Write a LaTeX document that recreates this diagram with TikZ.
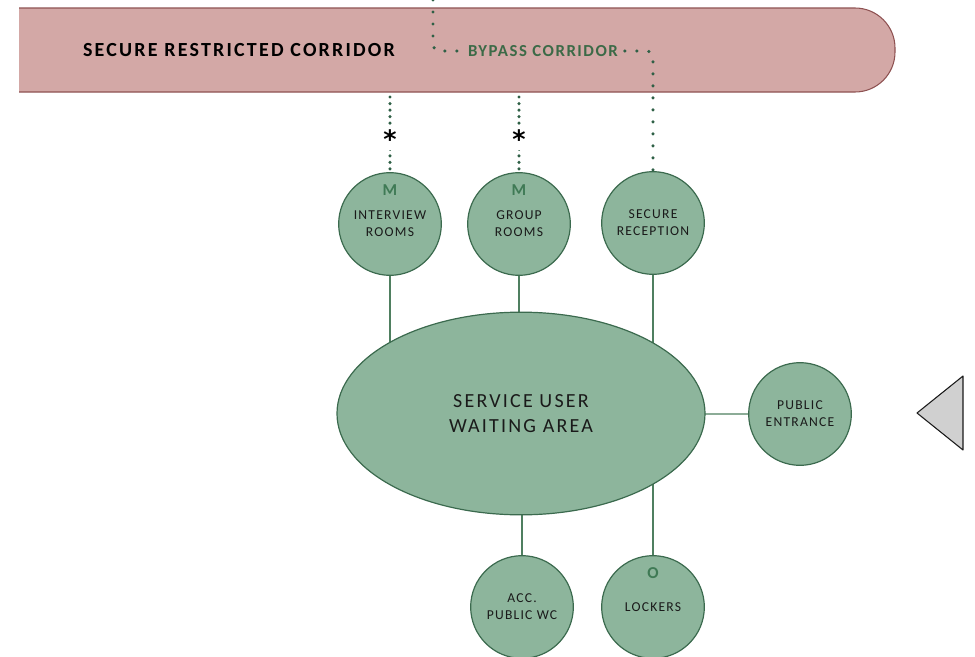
\documentclass[tikz,border=0pt]{standalone}
\usepackage{fontspec}
\setmainfont{Carlito}
\newfontfamily\spacedfont[LetterSpace=9]{Carlito}
\newfontfamily\widefont[LetterSpace=11]{Carlito}
\newfontfamily\starfont{DejaVu Sans}
\usetikzlibrary{shapes.geometric,backgrounds}

\definecolor{roomfill}{HTML}{8DB59C}
\definecolor{roomline}{HTML}{3B6A4E}
\definecolor{linkline}{HTML}{4F7F60}
\definecolor{corrfill}{HTML}{D3A8A6}
\definecolor{corrline}{HTML}{8E5252}
\definecolor{dotgreen}{HTML}{2F6046}
\definecolor{codegreen}{HTML}{3F7A55}
\definecolor{bypassgreen}{HTML}{3C6A47}
\definecolor{inkdark}{HTML}{1A1A1A}
\definecolor{arrowgray}{HTML}{D0D0D0}

\begin{document}
\begin{tikzpicture}[x=0.75pt,y=-0.75pt,
  room/.style={circle, draw=roomline, fill=roomfill, line width=0.9pt,
    minimum size=77pt, inner sep=0pt, align=center, text=inkdark,
    font=\spacedfont\fontsize{10.2}{12.8}\selectfont},
  hub/.style={ellipse, draw=roomline, fill=roomfill, line width=0.9pt,
    minimum width=276pt, minimum height=152pt, inner sep=0pt, align=center,
    text=inkdark, font=\widefont\fontsize{15}{18.8}\selectfont},
  link/.style={draw=linkline, line width=0.9pt},
  dotline/.style={draw=dotgreen, line width=2.6pt, line cap=round,
    dash pattern=on 0pt off 9pt},
  densedots/.style={draw=dotgreen, line width=2.6pt, line cap=round,
    dash pattern=on 0pt off 4.9pt},
  code/.style={text=codegreen, font=\bfseries\fontsize{12.5}{14}\selectfont, inner sep=1pt},
  star/.style={fill=white, inner sep=1.5pt, text=black,
    font=\starfont\bfseries\fontsize{19}{19}\selectfont}
]
\useasboundingbox (0,0) rectangle (975,657);

% restricted corridor band, open on the left, rounded on the right
\fill[corrfill, rounded corners=30pt] (19,8) -- (895,8) -- (895,92) -- (19,92);
\draw[corrline, line width=0.8pt, rounded corners=30pt] (19,8) -- (895,8) -- (895,92) -- (19,92);
\coordinate (corrbase) at (0,92);
\coordinate (bypasstop) at (433,0);

\node[text=black, font={\widefont\bfseries\fontsize{15}{17}\selectfont}] (corr) at (239,50) {SECURE RESTRICTED CORRIDOR};
\node[text=bypassgreen, font={\spacedfont\bfseries\fontsize{12.6}{14}\selectfont}, inner sep=5pt] (bypass) at (543,51) {BYPASS CORRIDOR};

% rooms
\node[room] (int) at (390,224) {INTERVIEW\\ROOMS};
\node[room] (grp) at (519,224) {GROUP\\ROOMS};
\node[room] (sec) at (653,223) {SECURE\\RECEPTION};
\node[hub] (wait) at (521,413.5) {SERVICE USER\\WAITING AREA};
\node[room] (ent) at (800,414) {PUBLIC\\ENTRANCE};
\node[room] (wc) at (522,607) {ACC.\\PUBLIC WC};
\node[room] (lock) at (653,607) {LOCKERS};

\node[code] (mint) at (390,190) {M};
\node[code] (mgrp) at (519,190) {M};
\node[code] (olock) at (653,573) {O};

% connections to the waiting area
\begin{scope}[on background layer]
  \draw[link] (int.south) -- (int.south |- wait.center);
  \draw[link] (grp.south) -- (grp.south |- wait.center);
  \draw[link] (sec.south) -- (sec.south |- wait.center);
  \draw[link] (wait.center) -- (ent.west);
  \draw[link] (wait.center -| wc.north) -- (wc.north);
  \draw[link] (wait.center -| lock.north) -- (lock.north);
\end{scope}

% dotted links to the corridor
\draw[dotline, rounded corners=5pt] (bypasstop) |- (bypass.west);
\draw[dotline, rounded corners=5pt] (bypass.east) -| (sec.north);
\draw[densedots] (int.north |- corrbase) ++(0,5) -- (int.north);
\draw[densedots] (grp.north |- corrbase) ++(0,5) -- (grp.north);
\node[star] (sint) at (390,139) {*};
\node[star] (sgrp) at (519,139) {*};

% entrance arrow
\coordinate (tip) at (917,413);
\coordinate (tailup) at (963,376);
\coordinate (taildown) at (963,450);
\draw[draw=inkdark, fill=arrowgray, line width=0.8pt, line join=round] (tip) -- (tailup) -- (taildown) -- cycle;
\end{tikzpicture}
\end{document}
